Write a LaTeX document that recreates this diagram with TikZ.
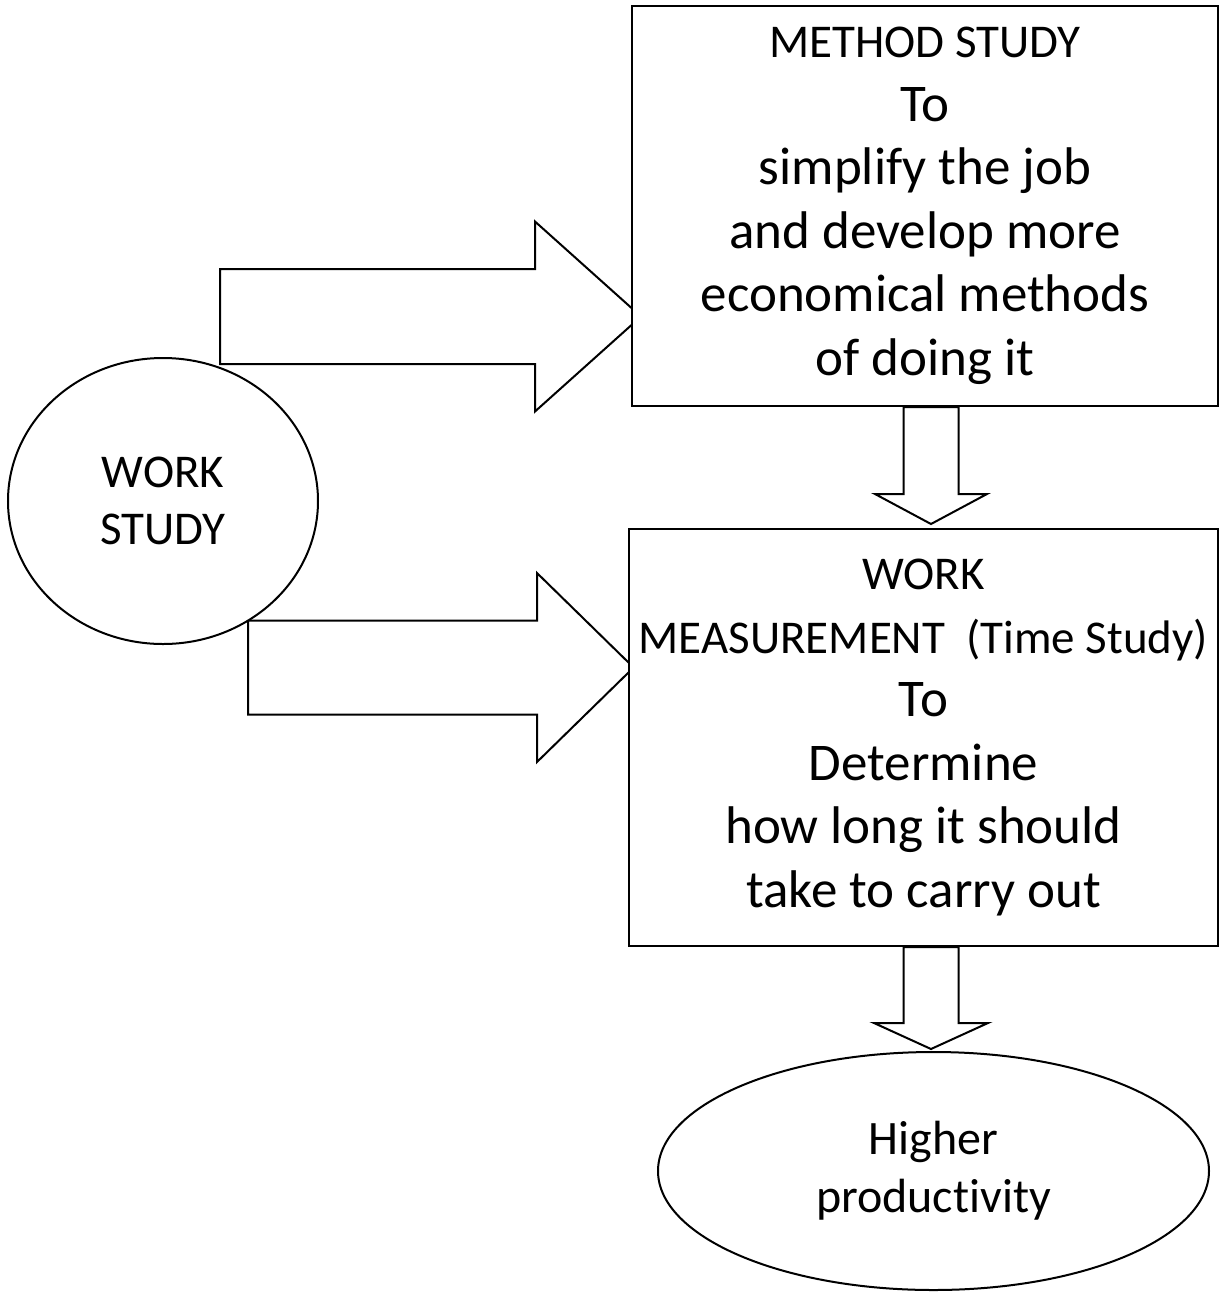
\documentclass[tikz,border=0pt]{standalone}
\usepackage{fontspec}
\setmainfont{Carlito}[Ligatures=NoCommon]
\usetikzlibrary{calc,shapes.geometric,backgrounds}

% text sizes: body lines and the two heading lines
\newcommand\wsbody{\fontsize{26.5}{31.75}\selectfont}
\newcommand\wshead{\fontsize{23.5}{31.75}\selectfont}

\tikzset{
  box/.style={draw, line width=1pt, fill=white, inner sep=0pt, align=center, font=\wsbody},
  oval/.style={ellipse, draw, line width=1pt, fill=white, inner sep=0pt, align=center},
  blockarrow/.style={draw, line width=1pt, fill=white, line join=miter},
}

\begin{document}
\begin{tikzpicture}[x=0.5pt, y=0.5pt]
  \useasboundingbox (0,0) rectangle (1220,-1292);

  % the four shapes
  \node[box, minimum width=293pt, minimum height=200pt] (ms) at (925,-206)
    {{\wshead METHOD STUDY}\\To\\simplify the job\\and develop more\\economical methods\\of doing it};
  \node[box, minimum width=294.5pt, minimum height=208.5pt] (wm) at (923.5,-737.5)
    {{\wshead WORK}\\{\wshead MEASUREMENT~ (Time Study)}\\To\\Determine\\how long it should\\take to carry out};
  \node[oval, minimum width=155pt, minimum height=143pt,
        font=\fontsize{23.5}{28.5}\selectfont] (ws) at (163,-501) {WORK\\STUDY};
  \node[oval, minimum width=275.5pt, minimum height=119pt,
        font=\fontsize{24}{29}\selectfont] (hp) at (933.5,-1171) {Higher\\productivity};

  % block arrows, kept behind the shapes so their tips tuck under the boxes
  \begin{scope}[on background layer]
    \coordinate (a1) at (220,-316.5);
    \coordinate (a2) at (248,-667.5);
    % work study -> method study
    \draw[blockarrow] let \p1=(a1), \p2=($(ms.west|-a1)+(10,0)$) in
      (\x1,\y1+23.75pt) -- (\x2-53pt,\y1+23.75pt) -- (\x2-53pt,\y1+47.5pt) -- (\x2,\y1)
      -- (\x2-53pt,\y1-47.5pt) -- (\x2-53pt,\y1-23.75pt) -- (\x1,\y1-23.75pt) -- cycle;
    % work study -> work measurement
    \draw[blockarrow] let \p1=(a2), \p2=($(wm.west|-a2)+(5.6,0)$) in
      (\x1,\y1+23.5pt) -- (\x2-48.3pt,\y1+23.5pt) -- (\x2-48.3pt,\y1+47.25pt) -- (\x2,\y1)
      -- (\x2-48.3pt,\y1-47.25pt) -- (\x2-48.3pt,\y1-23.5pt) -- (\x1,\y1-23.5pt) -- cycle;
    % method study -> work measurement
    \draw[blockarrow] let \p1=($(ms.south -| hp.north)+(-2.5,0)$),
                          \p2=($(wm.north -| hp.north)+(-2.5,4)$) in
      (\x1-13.75pt,\y1) -- (\x1-13.75pt,\y2+15pt) -- (\x1-28pt,\y2+15pt) -- (\x2,\y2)
      -- (\x1+28pt,\y2+15pt) -- (\x1+13.75pt,\y2+15pt) -- (\x1+13.75pt,\y1) -- cycle;
    % work measurement -> higher productivity
    \draw[blockarrow] let \p1=($(wm.south -| hp.north)+(-2.5,0)$),
                          \p2=($(hp.north)+(-2.5,2)$) in
      (\x1-13.75pt,\y1) -- (\x1-13.75pt,\y2+13pt) -- (\x1-28.5pt,\y2+13pt) -- (\x2,\y2)
      -- (\x1+28.5pt,\y2+13pt) -- (\x1+13.75pt,\y2+13pt) -- (\x1+13.75pt,\y1) -- cycle;
  \end{scope}
\end{tikzpicture}
\end{document}
